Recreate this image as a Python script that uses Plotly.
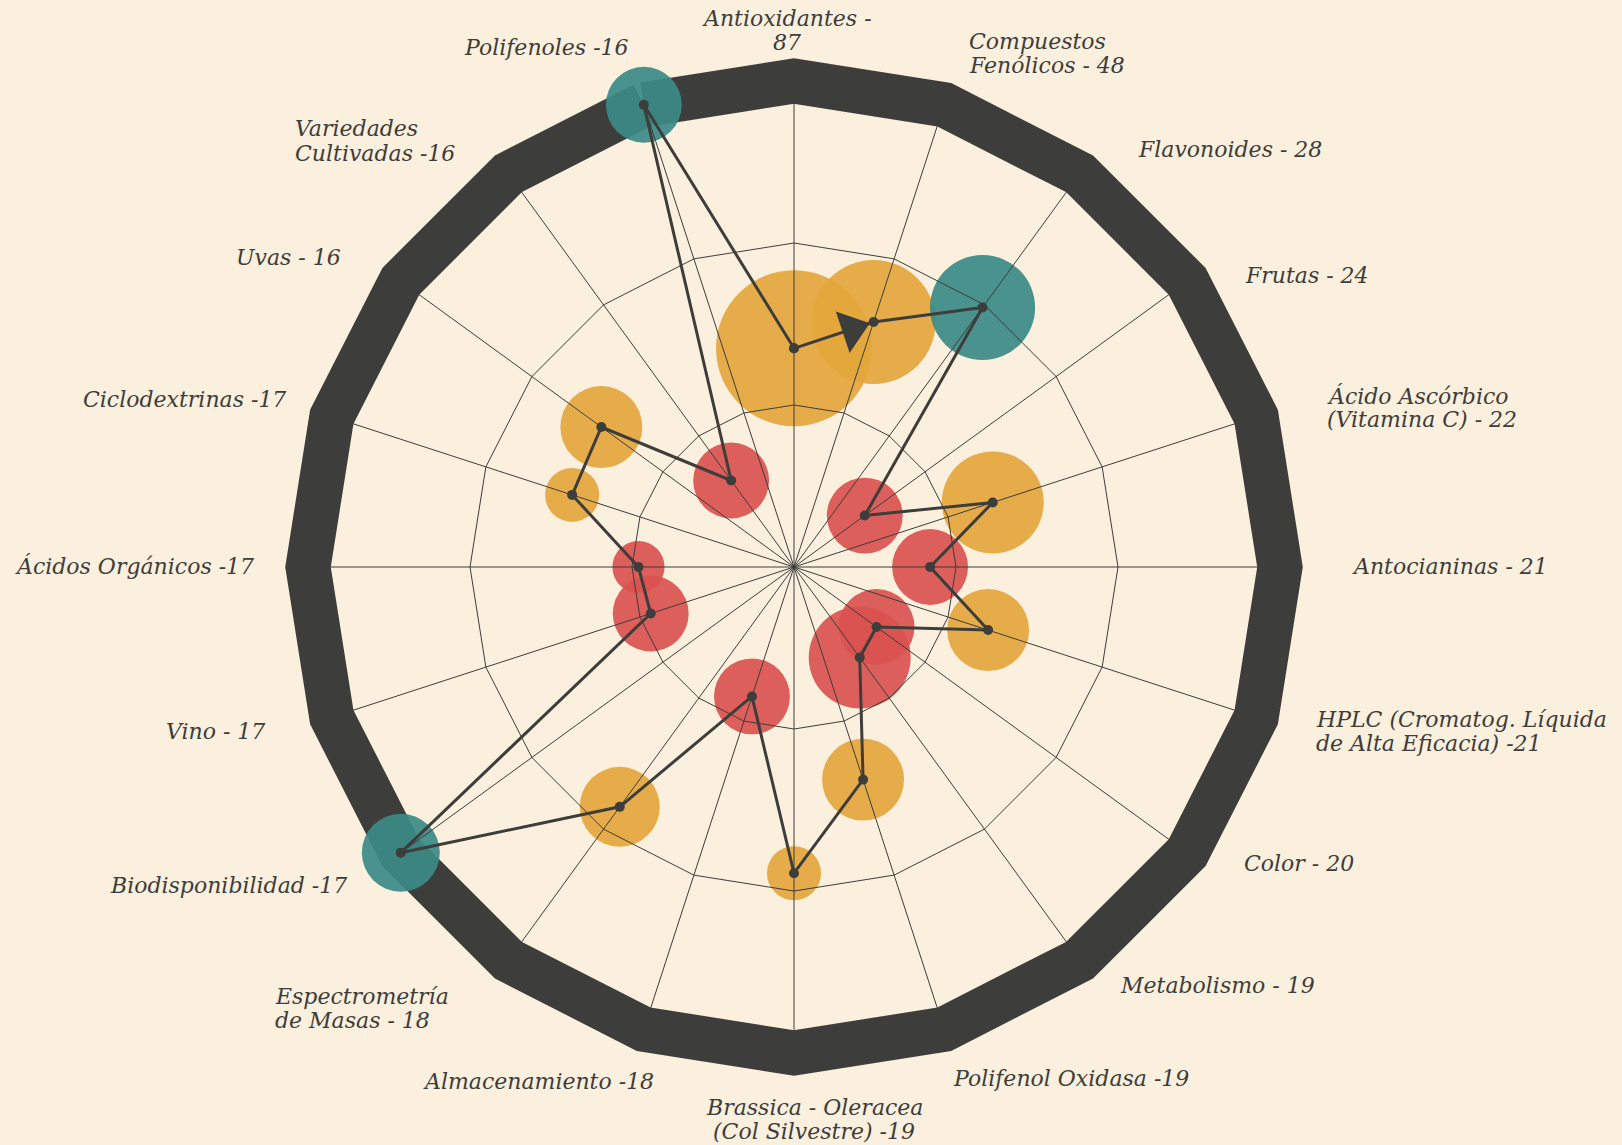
import plotly.graph_objects as go

# ---------------- data ----------------
categorias = ["Antioxidantes", "Compuestos Fenólicos", "Flavonoides", "Frutas",
              "Ácido Ascórbico (Vitamina C)", "Antocianinas",
              "HPLC (Cromatog. Líquida de Alta Eficacia)", "Color", "Metabolismo",
              "Polifenol Oxidasa", "Brassica - Oleracea (Col Silvestre)", "Almacenamiento",
              "Espectrometría de Masas", "Biodisponibilidad", "Vino", "Ácidos Orgánicos",
              "Ciclodextrinas", "Uvas", "Variedades Cultivadas", "Polifenoles"]
frecuencias = [87, 48, 28, 24, 22, 21, 21, 20, 19, 19, 19, 18, 18, 17, 17, 17, 17, 16, 16, 16]
etiquetas = ["Antioxidantes -<br>87", "Compuestos<br>Fenólicos - 48", "Flavonoides - 28",
             "Frutas - 24", "Ácido Ascórbico<br>(Vitamina C) - 22", "Antocianinas - 21",
             "HPLC (Cromatog. Líquida<br>de Alta Eficacia) -21", "Color - 20",
             "Metabolismo - 19", "Polifenol Oxidasa -19",
             "Brassica - Oleracea<br>(Col Silvestre) -19", "Almacenamiento -18",
             "Espectrometría<br>de Masas - 18", "Biodisponibilidad -17", "Vino - 17",
             "Ácidos Orgánicos -17", "Ciclodextrinas -17", "Uvas - 16",
             "Variedades<br>Cultivadas -16", "Polifenoles -16"]
valores = [45, 53, 66, 18, 43, 28, 42, 21, 23, 46, 63, 28, 61, 100, 31, 32, 48, 49, 22, 100]
peso = [608, 384, 276, 144, 260, 144, 168, 144, 260, 168, 73, 144, 160, 152, 144, 68, 73, 168, 144, 144]
grupo = ["B", "B", "A", "C", "B", "C", "B", "C", "C", "B", "B", "C", "B", "A", "C", "C", "B", "B", "C", "A"]
niveles_grid = [100 / 3, 200 / 3]
r_max = 100

# ---------------- styles ----------------
W, H = 1622, 1145
BG = "#fbefdd"
DARK = "#3d3d3b"
colores_grupo = {"A": "#3b8a86", "B": "#e4a63c", "C": "#d9534f"}
FONT = "DejaVu Serif"

# label placement (pixel position of each line's anchor, anchor side)
pos_etiquetas = [
    (787, [19, 43], "center"), (967, [41, 65], "left"), (1136, [150], "left"),
    (1243, [275], "left"), (1325, [396, 420], "left"), (1350, [566], "left"),
    (1314, [719, 743], "left"), (1242, [863], "left"), (1118, [985], "left"),
    (951, [1078], "left"), (814, [1107, 1131], "center"), (656, [1081], "right"),
    (273, [996, 1020], "left"), (349, [885], "right"), (267, [731], "right"),
    (256, [566], "right"), (288, [399], "right"), (343, [257], "right"),
    (293, [129, 153], "left"), (631, [48], "right"),
]

CX, CY, R = 794, 567, 486

fig = go.Figure()

# bubbles
fig.add_trace(go.Scatterpolar(
    r=valores, theta=categorias, mode="markers", cliponaxis=False,
    marker=dict(size=peso, sizemode="area", sizeref=1 / 20,
                color=[colores_grupo[g] for g in grupo], opacity=0.92, line=dict(width=0)),
    hoverinfo="skip", showlegend=False))

# spokes
sr, st = [], []
for c in categorias:
    sr += [0, r_max, None]
    st += [c, c, c]
fig.add_trace(go.Scatterpolar(r=sr, theta=st, mode="lines",
                              line=dict(color=DARK, width=1), hoverinfo="skip", showlegend=False))
# grid rings
for lv in niveles_grid:
    fig.add_trace(go.Scatterpolar(r=[lv] * (len(categorias) + 1), theta=categorias + categorias[:1],
                                  mode="lines", line=dict(color=DARK, width=1),
                                  hoverinfo="skip", showlegend=False))

# path
fig.add_trace(go.Scatterpolar(
    r=valores + valores[:1], theta=categorias + categorias[:1], mode="lines+markers",
    cliponaxis=False, line=dict(color=DARK, width=3),
    marker=dict(size=10, color=DARK, opacity=1), hoverinfo="skip", showlegend=False))

# arrow
fig.add_trace(go.Scatterpolar(
    r=valores[:2], theta=categorias[:2], mode="markers", cliponaxis=False,
    marker=dict(size=[0, 38], symbol="triangle-up", angleref="previous", standoff=23,
                color=DARK, opacity=1, line=dict(width=0)),
    hoverinfo="skip", showlegend=False))

# center
fig.add_trace(go.Scatterpolar(r=[0], theta=categorias[:1], mode="markers", cliponaxis=False,
                              marker=dict(size=17, color=DARK, opacity=1),
                              hoverinfo="skip", showlegend=False))

annotations = []
for txt, (x, ys, anc) in zip(etiquetas, pos_etiquetas):
    for line, y in zip(txt.split("<br>"), ys):
        annotations.append(dict(
            x=x / W, y=1 - y / H, xref="paper", yref="paper", text=line, showarrow=False,
            xanchor=anc, yanchor="middle", align=anc,
            font=dict(family=FONT, size=22, color=DARK, style="italic")))

fig.update_layout(
    width=W, height=H, margin=dict(l=0, r=0, t=0, b=0),
    paper_bgcolor=BG, plot_bgcolor=BG, showlegend=False,
    annotations=annotations,
    polar=dict(
        domain=dict(x=[(CX - R) / W, (CX + R) / W], y=[(H - CY - R) / H, (H - CY + R) / H]),
        bgcolor=BG, gridshape="linear", hole=0,
        radialaxis=dict(range=[0, r_max], visible=True, showgrid=False, showline=False,
                        showticklabels=False, ticks=""),
        angularaxis=dict(type="category", categoryarray=categorias, direction="clockwise",
                         rotation=90, showgrid=False, showticklabels=False, ticks="",
                         showline=True, linecolor=DARK, linewidth=45, layer="below traces"),
    ),
)

fig.write_html("out.html", config={"displayModeBar": False},
               post_script="document.body.style.margin='0';document.body.style.overflow='hidden';")
